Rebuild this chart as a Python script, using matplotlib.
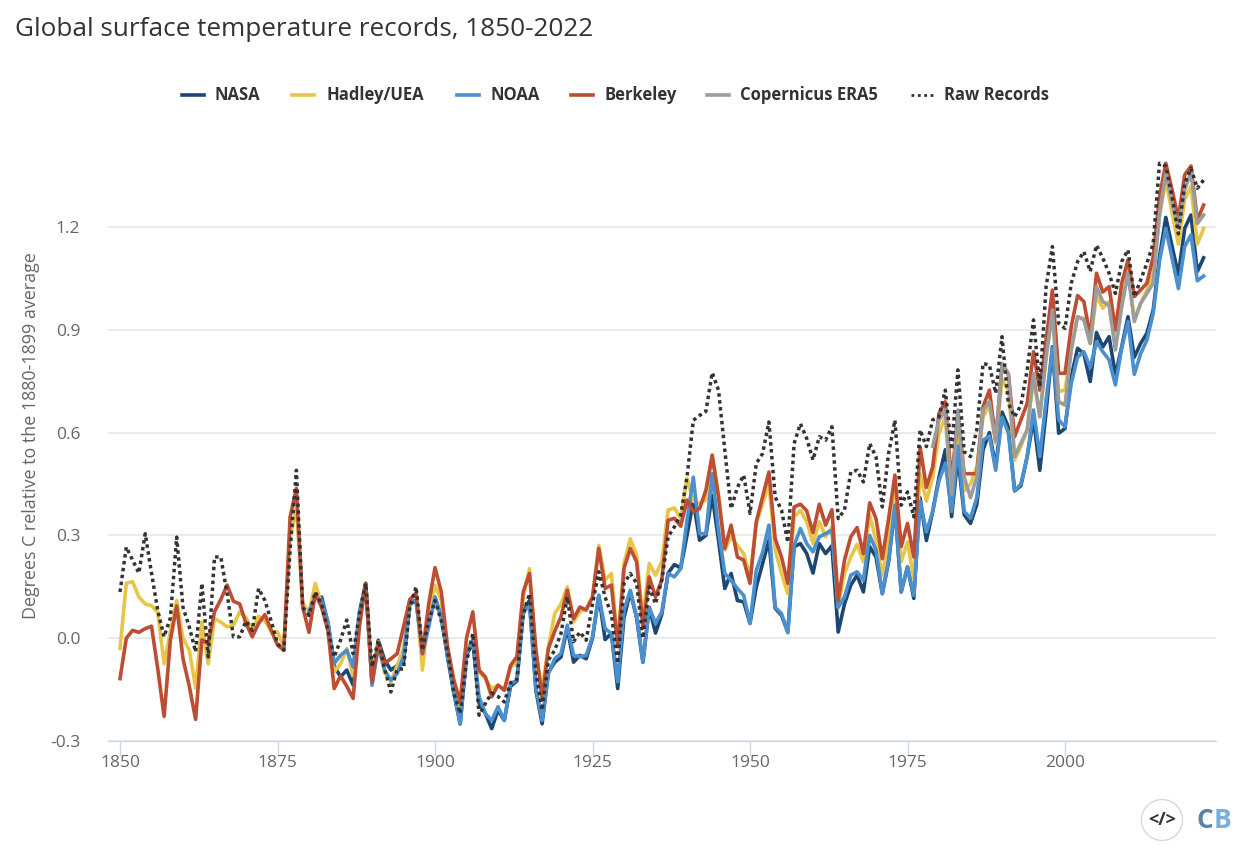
#!/usr/bin/env python3
"""Global surface temperature records, 1850-2022."""
import numpy as np
import matplotlib
matplotlib.use('Agg')
import matplotlib.pyplot as plt
from matplotlib.lines import Line2D
from matplotlib.patches import Circle

INK = '#333333'
GREY = '#666666'
plt.rcParams['font.family'] = ['Open Sans', 'DejaVu Sans']

# starts in 1880
nasa = [
    0.067, 0.12, 0.12, 0.045, -0.08, -0.113, -0.093, -0.137, 0.07, 0.16,
    -0.13, -0.006, -0.064, -0.093, -0.08, -0.07, 0.10, 0.11, -0.04, 0.05,
    0.12, 0.06, -0.055, -0.16, -0.25, -0.05, -0.01, -0.19, -0.22, -0.264,
    -0.21, -0.24, -0.14, -0.125, 0.08, 0.11, -0.15, -0.25, -0.10, -0.07,
    -0.055, 0.03, -0.07, -0.05, -0.06, 0.0, 0.125, -0.004, 0.014, -0.147,
    0.06, 0.135, 0.06, -0.07, 0.09, 0.015, 0.07, 0.19, 0.215, 0.205,
    0.30, 0.40, 0.286, 0.30, 0.417, 0.286, 0.145, 0.189, 0.11, 0.106,
    0.043, 0.15, 0.218, 0.286, 0.087, 0.067, 0.018, 0.267, 0.276, 0.247,
    0.19, 0.276, 0.247, 0.27, 0.018, 0.10, 0.155, 0.184, 0.135, 0.267,
    0.237, 0.13, 0.223, 0.383, 0.135, 0.208, 0.116, 0.41, 0.285, 0.37,
    0.47, 0.55, 0.355, 0.53, 0.36, 0.335, 0.39, 0.55, 0.60, 0.50,
    0.66, 0.617, 0.43, 0.445, 0.53, 0.64, 0.49, 0.66, 0.85, 0.598,
    0.612, 0.763, 0.846, 0.83, 0.749, 0.892, 0.85, 0.88, 0.768, 0.85,
    0.938, 0.82, 0.86, 0.89, 0.958, 1.113, 1.228, 1.143, 1.06, 1.196,
    1.235, 1.07, 1.11,
]
# starts in 1850
hadley = [
    -0.03, 0.16, 0.165, 0.12, 0.10, 0.095, 0.075, -0.075, 0.02, 0.11,
    0.0, -0.035, -0.145, 0.047, -0.075, 0.057, 0.047, 0.033, 0.037, 0.077,
    0.06, 0.023, 0.064, 0.05, 0.02, 0.018, -0.025, 0.295, 0.38, 0.10,
    0.077, 0.16, 0.10, 0.04, -0.098, -0.075, -0.03, -0.11, 0.07, 0.16,
    -0.137, -0.01, -0.10, -0.127, -0.08, -0.03, 0.11, 0.13, -0.093, 0.07,
    0.155, 0.11, -0.04, -0.13, -0.21, -0.03, -0.006, -0.10, -0.118, -0.147,
    -0.137, -0.15, -0.084, -0.074, 0.12, 0.203, -0.045, -0.147, -0.025, 0.072,
    0.10, 0.15, 0.048, 0.077, 0.087, 0.12, 0.271, 0.17, 0.189, -0.016,
    0.218, 0.29, 0.242, 0.053, 0.218, 0.184, 0.223, 0.374, 0.38, 0.35,
    0.466, 0.40, 0.393, 0.403, 0.534, 0.42, 0.257, 0.296, 0.27, 0.247,
    0.18, 0.335, 0.393, 0.45, 0.257, 0.189, 0.13, 0.354, 0.373, 0.34,
    0.276, 0.34, 0.296, 0.325, 0.09, 0.189, 0.237, 0.274, 0.223, 0.359,
    0.286, 0.184, 0.286, 0.422, 0.223, 0.281, 0.174, 0.48, 0.40, 0.47,
    0.598, 0.646, 0.40, 0.608, 0.43, 0.45, 0.50, 0.646, 0.68, 0.569,
    0.754, 0.724, 0.52, 0.56, 0.608, 0.754, 0.646, 0.82, 0.948, 0.72,
    0.724, 0.85, 0.938, 0.933, 0.86, 1.0, 0.963, 0.982, 0.87, 0.977,
    1.075, 0.93, 0.977, 1.016, 1.065, 1.23, 1.337, 1.24, 1.15, 1.28,
    1.318, 1.15, 1.196,
]
# starts in 1880
noaa = [
    0.077, 0.12, 0.11, 0.048, -0.074, -0.05, -0.035, -0.084, 0.077, 0.16,
    -0.137, -0.025, -0.093, -0.123, -0.103, -0.054, 0.11, 0.11, -0.045, 0.033,
    0.12, 0.062, -0.054, -0.16, -0.25, -0.045, -0.006, -0.171, -0.22, -0.24,
    -0.20, -0.24, -0.132, -0.123, 0.072, 0.10, -0.142, -0.24, -0.103, -0.06,
    -0.045, 0.038, -0.05, -0.054, -0.05, 0.004, 0.125, 0.028, 0.014, -0.127,
    0.082, 0.14, 0.062, -0.07, 0.09, 0.043, 0.077, 0.189, 0.179, 0.203,
    0.344, 0.47, 0.305, 0.305, 0.48, 0.315, 0.189, 0.169, 0.145, 0.125,
    0.043, 0.198, 0.25, 0.33, 0.09, 0.072, 0.016, 0.27, 0.32, 0.276,
    0.252, 0.296, 0.305, 0.315, 0.09, 0.12, 0.184, 0.194, 0.169, 0.30,
    0.257, 0.13, 0.228, 0.388, 0.135, 0.208, 0.125, 0.40, 0.31, 0.37,
    0.46, 0.51, 0.37, 0.56, 0.37, 0.35, 0.41, 0.578, 0.59, 0.49,
    0.645, 0.60, 0.43, 0.45, 0.53, 0.666, 0.53, 0.695, 0.846, 0.637,
    0.617, 0.744, 0.82, 0.836, 0.79, 0.865, 0.836, 0.812, 0.739, 0.846,
    0.924, 0.77, 0.83, 0.87, 0.948, 1.10, 1.196, 1.108, 1.02, 1.143,
    1.177, 1.043, 1.057,
]
# starts in 1850
berkeley = [
    -0.118, 0.0, 0.023, 0.017, 0.028, 0.035, -0.09, -0.228, -0.005, 0.094,
    -0.06, -0.14, -0.237, -0.005, -0.015, 0.077, 0.113, 0.155, 0.108, 0.10,
    0.043, 0.004, 0.043, 0.069, 0.023, -0.02, -0.035, 0.354, 0.437, 0.091,
    0.017, 0.13, 0.09, 0.023, -0.147, -0.11, -0.14, -0.176, 0.033, 0.16,
    -0.127, -0.015, -0.074, -0.06, -0.045, 0.033, 0.113, 0.132, -0.045, 0.10,
    0.206, 0.135, -0.025, -0.123, -0.186, 0.0, 0.077, -0.093, -0.113, -0.171,
    -0.137, -0.152, -0.079, -0.054, 0.135, 0.189, -0.03, -0.176, -0.03, 0.02,
    0.063, 0.14, 0.057, 0.091, 0.082, 0.12, 0.262, 0.145, 0.155, -0.025,
    0.203, 0.262, 0.223, 0.033, 0.179, 0.12, 0.17, 0.344, 0.35, 0.327,
    0.403, 0.369, 0.378, 0.432, 0.534, 0.412, 0.262, 0.33, 0.237, 0.228,
    0.16, 0.34, 0.412, 0.485, 0.29, 0.237, 0.16, 0.383, 0.391, 0.372,
    0.308, 0.391, 0.33, 0.375, 0.11, 0.228, 0.296, 0.323, 0.247, 0.395,
    0.349, 0.232, 0.349, 0.476, 0.267, 0.335, 0.237, 0.558, 0.44, 0.50,
    0.656, 0.69, 0.45, 0.66, 0.48, 0.48, 0.48, 0.676, 0.724, 0.578,
    0.792, 0.773, 0.588, 0.637, 0.685, 0.836, 0.724, 0.87, 1.016, 0.773,
    0.773, 0.91, 1.0, 0.982, 0.88, 1.065, 1.01, 1.026, 0.90, 1.036,
    1.104, 0.997, 1.016, 1.036, 1.113, 1.288, 1.386, 1.308, 1.225, 1.352,
    1.378, 1.22, 1.264,
]
# starts in 1979
era5 = [
    0.56, 0.637, 0.666, 0.42, 0.666, 0.47, 0.41, 0.47, 0.666, 0.69, 0.574,
    0.802, 0.773, 0.53, 0.569, 0.608, 0.773, 0.646, 0.82, 0.958, 0.69,
    0.68, 0.841, 0.938, 0.929, 0.86, 1.026, 0.982, 0.972, 0.841, 0.967,
    1.065, 0.924, 0.977, 1.006, 1.036, 1.24, 1.357, 1.27, 1.20, 1.308,
    1.36, 1.21, 1.235,
]
# starts in 1850
raw = [
    0.135, 0.266, 0.228, 0.19, 0.305, 0.19, 0.08, 0.004, 0.06, 0.295,
    0.09, 0.033, -0.04, 0.16, -0.055, 0.237, 0.237, 0.13, 0.004, 0.004,
    0.05, 0.023, 0.145, 0.11, 0.05, -0.016, -0.035, 0.257, 0.49, 0.09,
    0.067, 0.135, 0.10, 0.023, -0.055, -0.006, 0.053, -0.045, 0.07, 0.16,
    -0.084, -0.006, -0.09, -0.157, -0.09, -0.09, 0.09, 0.15, -0.035, 0.05,
    0.11, 0.05, -0.04, -0.16, -0.22, -0.07, 0.014, -0.225, -0.19, -0.16,
    -0.17, -0.186, -0.13, -0.12, 0.07, 0.13, -0.10, -0.21, -0.064, -0.035,
    0.014, 0.12, -0.01, 0.018, -0.006, 0.10, 0.194, 0.12, 0.07, -0.074,
    0.16, 0.189, 0.16, 0.0, 0.15, 0.10, 0.17, 0.296, 0.325, 0.359,
    0.47, 0.636, 0.65, 0.662, 0.775, 0.724, 0.549, 0.378, 0.44, 0.476,
    0.364, 0.51, 0.539, 0.631, 0.412, 0.374, 0.28, 0.568, 0.626, 0.583,
    0.52, 0.588, 0.578, 0.617, 0.349, 0.374, 0.485, 0.49, 0.456, 0.568,
    0.529, 0.383, 0.539, 0.636, 0.388, 0.427, 0.354, 0.608, 0.559, 0.637,
    0.646, 0.724, 0.55, 0.783, 0.544, 0.53, 0.608, 0.802, 0.797, 0.715,
    0.88, 0.685, 0.646, 0.68, 0.783, 0.929, 0.734, 1.026, 1.143, 0.919,
    0.904, 1.036, 1.099, 1.128, 1.07, 1.147, 1.109, 1.065, 1.006, 1.099,
    1.133, 0.997, 1.045, 1.094, 1.152, 1.386, 1.378, 1.288, 1.18, 1.327,
    1.371, 1.313, 1.337,
]
series_names = ['NASA', 'Hadley/UEA', 'NOAA', 'Berkeley', 'Copernicus ERA5', 'Raw Records']
start_years = [1880, 1850, 1880, 1850, 1979, 1850]
colors = ['#1d4772', '#e8c547', '#4a90cf', '#bd4d33', '#9c9c9c', '#333333']
x_ticks = [1850, 1875, 1900, 1925, 1950, 1975, 2000]
y_ticks = [-0.3, 0.0, 0.3, 0.6, 0.9, 1.2]

W, H = 1250, 850
fig = plt.figure(figsize=(W/100, H/100), dpi=100)
ax = fig.add_axes([108/W, 1-741/H, (1216-108)/W, (741-151.6)/H])
ax.set_xlim(1850-12/6.3, 1850+(1216-120)/6.3)
ax.set_ylim(-0.3, 1.42)

for vals, start, c, name in zip([nasa, hadley, noaa, berkeley, era5, raw], start_years, colors, series_names):
    yrs = np.arange(start, start+len(vals))
    if name == 'Raw Records':
        ax.plot(yrs, vals, color=c, lw=2.5, ls=(0, (1, 1)), zorder=3, clip_on=False)
    else:
        ax.plot(yrs, vals, color=c, lw=2.6, solid_joinstyle='round', zorder=2, clip_on=False)

for s in ['top', 'right', 'left']:
    ax.spines[s].set_visible(False)
ax.spines['bottom'].set_color('#ccd6eb')
ax.spines['bottom'].set_linewidth(1.0)
ax.set_xticks(x_ticks)
ax.set_yticks(y_ticks, [f'{v:.1f}' for v in y_ticks])
ax.tick_params(axis='x', length=11, width=1, color='#ccd6eb', labelsize=12.5, labelcolor=GREY, pad=-1)
ax.tick_params(axis='y', length=0, labelsize=12.5, labelcolor=GREY, pad=20)
ax.grid(axis='y', color='#e6e6e6', lw=1.2)
ax.set_axisbelow(True)
fig.text(31/W, 1-436/H, 'Degrees C relative to the 1880-1899 average', rotation=90,
         ha='center', va='center', fontsize=12.9, color=GREY)

fig.text(15/W, 1-29/H, 'Global surface temperature records, 1850-2022', ha='left', va='center',
         fontsize=18.8, color=INK)

# legend, laid out by hand
leg_x = [182, 292, 457, 571, 707, 911]
for x0, name, c in zip(leg_x, series_names, colors):
    if name == 'Raw Records':
        fig.add_artist(Line2D([x0/W, (x0+22)/W], [1-95/H, 1-95/H], color=c, lw=2.0, ls=(0, (1, 1.3))))
    else:
        fig.add_artist(Line2D([x0/W, (x0+22)/W], [1-95/H, 1-95/H], color=c, lw=2.6))
    off = 35 if name == 'Hadley/UEA' else 33
    fig.text((x0+off)/W, 1-95.5/H, name, ha='left', va='center', fontsize=12, weight='bold', color=INK)

# code button and logo
logo = fig.add_axes([0, 0, 1, 1], facecolor='none')
logo.set_xlim(0, W); logo.set_ylim(H, 0); logo.axis('off')
logo.add_patch(Circle((1162, 820), 20.5, fc='white', ec='#ddd6d6', lw=1))
logo.text(1162, 820, '</>', ha='center', va='center', fontsize=13, weight='bold', color=INK)
logo.text(1196, 820, 'C', ha='left', va='center', fontsize=19, weight='bold', color='#5a82aa')
logo.text(1214, 820, 'B', ha='left', va='center', fontsize=19, weight='bold', color='#79aedd')

fig.savefig('out.png', dpi=100)
